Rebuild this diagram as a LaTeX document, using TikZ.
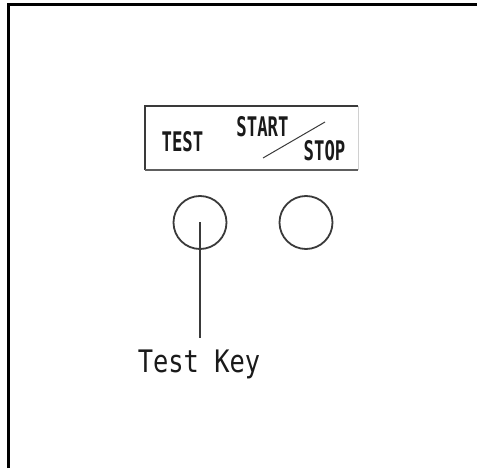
\documentclass[tikz,border=0pt]{standalone}
\usepackage{fontspec}
\usepackage{graphicx}
\usepackage{tikz}
\usetikzlibrary{positioning}
\newfontfamily\keyfont{DejaVu Sans Mono}
\definecolor{ink}{HTML}{1A1A1A}
\definecolor{edge}{HTML}{3A3A3A}
\definecolor{shade}{HTML}{5E5E5E}
\definecolor{pale}{HTML}{D0D0D0}
\tikzset{
  frameline/.style={draw=black, line width=3pt},
  panelline/.style={draw=edge, line width=1.6pt},
  keybtn/.style={circle, draw=edge, line width=1.8pt, minimum size=53pt, inner sep=0pt},
  paneltext/.style={text=ink, inner sep=0pt, anchor=base, font=\keyfont\bfseries\fontsize{27}{27}\selectfont},
  keylab/.style={text=ink, inner sep=0pt, anchor=base, font=\keyfont\fontsize{31}{31}\selectfont},
}
\newcommand{\narrow}[2]{\scalebox{#1}[1]{#2}}
\begin{document}
\begin{tikzpicture}[x=1pt, y=-1pt]
  \useasboundingbox (0,0) rectangle (477,473);
  % outer frame, open on the right and bottom
  \coordinate (FB) at (8,468);
  \coordinate (FC) at (8,5);
  \coordinate (FR) at (477,5);
  \draw[frameline] (FB) -- (FC) -- (FR);
  % label panel
  \node[minimum width=213pt, minimum height=64pt, inner sep=0pt] (panel) at (251.5,138) {};
  \draw[pale, line width=1pt] (panel.north east) -- (panel.south east);
  \draw[panelline] (panel.south west) -- (panel.north west) -- (panel.north east);
  \draw[draw=shade, line width=2.4pt] (panel.south west) -- (panel.south east);
  \node[paneltext] (test) at (182.5,152) {\narrow{0.64}{TEST}};
  \node[paneltext] (start) at (262.5,137) {\narrow{0.64}{START}};
  \node[paneltext] (stop) at (324.5,161) {\narrow{0.64}{STOP}};
  \coordinate (slashA) at (263,158);
  \coordinate (slashB) at (325,122);
  \draw[edge, line width=1pt] (slashA) -- (slashB);
  % keys
  \node[keybtn] (testbtn) at (200,222.5) {};
  \node[keybtn] (startbtn) at (306,222.5) {};
  % leader to the caption
  \node[keylab] (testkey) at (199,373) {\narrow{0.82}{Test Key}};
  \draw[edge, line width=1.2pt, shorten >=12pt] (testbtn.center) -- (testbtn.center |- testkey.north);
\end{tikzpicture}
\end{document}
